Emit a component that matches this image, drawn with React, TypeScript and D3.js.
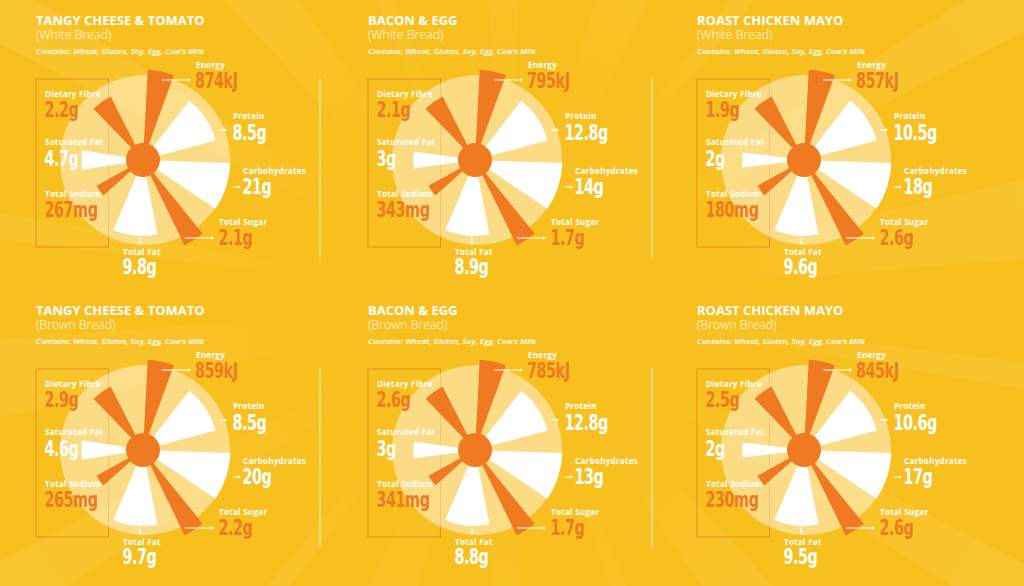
import React from "react";
import * as d3 from "d3";

// ---------- DATA ----------
const products = [
  "TANGY CHEESE & TOMATO",
  "BACON & EGG",
  "ROAST CHICKEN MAYO",
  "TANGY CHEESE & TOMATO",
  "BACON & EGG",
  "ROAST CHICKEN MAYO",
];
const breads = [
  "(White Bread)",
  "(White Bread)",
  "(White Bread)",
  "(Brown Bread)",
  "(Brown Bread)",
  "(Brown Bread)",
];
const allergens = "Contains: Wheat, Gluten, Soy, Egg, Cow\u2019s Milk";

const energyKJ = [874, 795, 857, 859, 785, 845];
const protein = [8.5, 12.8, 10.5, 8.5, 12.8, 10.6];
const carbohydrates = [21, 14, 18, 20, 13, 17];
const totalSugar = [2.1, 1.7, 2.6, 2.2, 1.7, 2.6];
const totalFat = [9.8, 8.9, 9.6, 9.7, 8.8, 9.5];
const dietaryFibre = [2.2, 2.1, 1.9, 2.9, 2.6, 2.5];
const saturatedFat = [4.7, 3, 2, 4.6, 3, 2];
const totalSodium = [267, 343, 180, 265, 341, 230];

// wheel slices (clockwise from 12 o'clock)
const nutrients = [
  "Energy",
  "Protein",
  "Carbohydrates",
  "Total Sugar",
  "Total Fat",
  "Total Sodium",
  "Saturated Fat",
  "Dietary Fibre",
];
const sliceStartDeg = [3, 38, 92, 141, 169, 228, 261, 316];
const sliceEndDeg = [20, 75, 124, 154, 203, 241, 279, 333];
const sliceLevel = [95, 79, 92, 100, 80, 56, 65, 75];
const sliceAccent = [true, false, false, true, false, true, false, true];

// ---------- STYLE ----------
const BG = "#F8C01F";
const ORANGE = "#EF7A22";
const WHITE = "#FFFFFF";
const VALUE_FONT = "'DejaVu Sans Condensed', 'DejaVu Sans', sans-serif";
const LABEL_FONT = "'Open Sans', 'Noto Sans', sans-serif";

const W = 1024;
const H = 586;
const colX = [36, 368, 697];
const rowY = [0, 290];

const deg = d3.scaleLinear().domain([0, 360]).range([0, 2 * Math.PI]);
const radius = d3.scaleLinear().domain([0, 100]).range([0, 95]);
const satFatHalfWidth = d3.scaleLinear().domain([2, 4.7]).range([7, 9.2]);

const fmt = (v: number, unit: string) => `${v}${unit}`;

function Arrow({ x1, y1, x2, y2 }: { x1: number; y1: number; x2: number; y2: number }) {
  const ang = Math.atan2(y2 - y1, x2 - x1);
  const s = 3;
  const w = 1.7;
  const tip = [x2 + Math.cos(ang) * s, y2 + Math.sin(ang) * s];
  const a = [x2 + Math.cos(ang + Math.PI / 2) * w, y2 + Math.sin(ang + Math.PI / 2) * w];
  const b = [x2 + Math.cos(ang - Math.PI / 2) * w, y2 + Math.sin(ang - Math.PI / 2) * w];
  return (
    <g>
      <line x1={x1} y1={y1} x2={x2} y2={y2} stroke={WHITE} strokeWidth={1} />
      <path d={`M${a[0]},${a[1]}L${tip[0]},${tip[1]}L${b[0]},${b[1]}Z`} fill={WHITE} />
    </g>
  );
}

function SmallLabel({ x, y, text }: { x: number; y: number; text: string }) {
  return (
    <text x={x} y={y} fill={WHITE} fontFamily={LABEL_FONT} fontWeight={700} fontSize={8.2} letterSpacing={0.2}>
      {text}
    </text>
  );
}

function Value({ x, y, text, color }: { x: number; y: number; text: string; color: string }) {
  return (
    <text
      transform={`translate(${x},${y}) scale(0.78,1)`}
      fill={color}
      fontFamily={VALUE_FONT}
      fontWeight={700}
      fontSize={20.5}
      letterSpacing={-0.6}
    >
      {text}
    </text>
  );
}

function Panel({ i }: { i: number }) {
  const ox = colX[i % 3];
  const oy = rowY[Math.floor(i / 3)];
  const cx = ox + 107;
  const cy = oy + 160;

  const arc = d3.arc<any>();
  const slices = nutrients.map((n, k) => {
    let s = deg(sliceStartDeg[k]);
    let e = deg(sliceEndDeg[k]);
    if (n === "Saturated Fat") {
      const mid = (sliceStartDeg[k] + sliceEndDeg[k]) / 2;
      const hw = satFatHalfWidth(saturatedFat[i]);
      s = deg(mid - hw);
      e = deg(mid + hw);
    }
    return {
      d: arc({ innerRadius: 0, outerRadius: radius(sliceLevel[k]), startAngle: s, endAngle: e }) as string,
      fill: sliceAccent[k] ? ORANGE : WHITE,
    };
  });

  return (
    <g>
      {/* titles */}
      <text x={ox} y={oy + 25} fill={WHITE} fontFamily={LABEL_FONT} fontWeight={700} fontSize={13}>
        {products[i]}
      </text>
      <text x={ox} y={oy + 39} fill={WHITE} fontFamily={LABEL_FONT} fontWeight={300} fontSize={12.4} opacity={0.92}>
        {breads[i]}
      </text>
      <text
        x={ox}
        y={oy + 53.5}
        fill={WHITE}
        fontFamily={LABEL_FONT}
        fontStyle="italic"
        fontWeight={600}
        fontSize={7.4}
        textLength={168}
        lengthAdjust="spacingAndGlyphs"
      >
        {allergens}
      </text>

      {/* left box */}
      <rect x={ox} y={cy - 81} width={72.5} height={168} fill="none" stroke="#E0801E" strokeOpacity={0.75} strokeWidth={1} />

      {/* pale disk */}
      <circle cx={cx + 2} cy={cy} r={85} fill={WHITE} fillOpacity={0.45} />

      {/* wedges */}
      <g transform={`translate(${cx},${cy})`}>
        {slices.map((s, k) => (
          <path key={k} d={s.d} fill={s.fill} />
        ))}
        <circle r={17} fill={ORANGE} />
      </g>

      {/* arrows */}
      <Arrow x1={cx + 19} y1={cy - 80} x2={cx + 45} y2={cy - 80} />
      <Arrow x1={cx + 76} y1={cy - 30} x2={cx + 81} y2={cy - 30} />
      <Arrow x1={cx + 90} y1={cy + 27} x2={cx + 95} y2={cy + 27} />
      <Arrow x1={cx + 42} y1={cy + 78} x2={cx + 68} y2={cy + 78} />
      <Arrow x1={cx - 3} y1={cy + 77} x2={cx - 3} y2={cy + 82} />

      {/* right-side labels */}
      <SmallLabel x={cx + 53} y={cy - 92} text={nutrients[0]} />
      <Value x={cx + 52} y={cy - 72} text={fmt(energyKJ[i], "kJ")} color={ORANGE} />
      <SmallLabel x={cx + 90} y={cy - 41} text={nutrients[1]} />
      <Value x={cx + 89.5} y={cy - 20} text={fmt(protein[i], "g")} color={WHITE} />
      <SmallLabel x={cx + 100} y={cy + 14} text={nutrients[2]} />
      <Value x={cx + 99.5} y={cy + 33.5} text={fmt(carbohydrates[i], "g")} color={WHITE} />
      <SmallLabel x={cx + 76} y={cy + 65} text={nutrients[3]} />
      <Value x={cx + 75.5} y={cy + 85} text={fmt(totalSugar[i], "g")} color={ORANGE} />
      <SmallLabel x={cx - 20} y={cy + 94.5} text={nutrients[4]} />
      <Value x={cx - 20.5} y={cy + 113.5} text={fmt(totalFat[i], "g")} color={WHITE} />

      {/* left box labels */}
      <SmallLabel x={ox + 9} y={cy - 63} text={nutrients[7]} />
      <Value x={ox + 8.5} y={cy - 43} text={fmt(dietaryFibre[i], "g")} color={ORANGE} />
      <SmallLabel x={ox + 9} y={cy - 15} text={nutrients[6]} />
      <Value x={ox + 8.5} y={cy + 6} text={fmt(saturatedFat[i], "g")} color={WHITE} />
      <SmallLabel x={ox + 9} y={cy + 37} text={nutrients[5]} />
      <Value x={ox + 8.5} y={cy + 57} text={fmt(totalSodium[i], "mg")} color={ORANGE} />
    </g>
  );
}

function Background() {
  const c = [505, 300];
  const n = 18;
  const rays = d3.range(n).map((k) => {
    const a0 = (k / n) * 2 * Math.PI + 0.12;
    const a1 = a0 + ((k % 3) + 1) * 0.05;
    const R = 1400;
    return `M${c[0]},${c[1]}L${c[0] + Math.cos(a0) * R},${c[1] + Math.sin(a0) * R}L${c[0] + Math.cos(a1) * R},${c[1] + Math.sin(a1) * R}Z`;
  });
  const grad = "bgfade";
  return (
    <g>
      <defs>
        <radialGradient id={grad} gradientUnits="userSpaceOnUse" cx={c[0]} cy={c[1]} r={620}>
          <stop offset="0%" stopColor="#FFE27A" stopOpacity={0} />
          <stop offset="25%" stopColor="#FFE27A" stopOpacity={0} />
          <stop offset="55%" stopColor="#FFE27A" stopOpacity={0.1} />
          <stop offset="100%" stopColor="#FFE27A" stopOpacity={0.16} />
        </radialGradient>
      </defs>
      <rect width={W} height={H} fill={BG} />
      {rays.map((d, k) => (
        <path key={k} d={d} fill={`url(#${grad})`} />
      ))}
    </g>
  );
}

export default function App() {
  return (
    <svg
      width={W}
      height={H}
      viewBox={`0 0 ${W} ${H}`}
      style={{ position: "fixed", left: 0, top: 0, display: "block" }}
    >
      <Background />
      {[320, 652].map((x) =>
        rowY.map((y) => (
          <line key={`${x}-${y}`} x1={x} x2={x} y1={y + 78} y2={y + 258} stroke="#FCE08E" strokeWidth={1.5} />
        ))
      )}
      {products.map((_, i) => (
        <Panel key={i} i={i} />
      ))}
    </svg>
  );
}
